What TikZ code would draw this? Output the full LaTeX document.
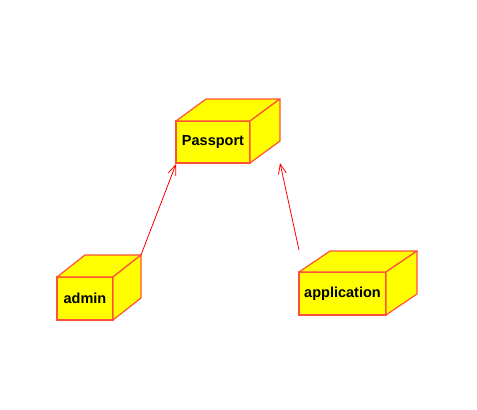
\documentclass[tikz,border=0pt]{standalone}
\usepackage{fontspec}
\setmainfont{Liberation Sans}
\usetikzlibrary{arrows.meta}
\definecolor{boxline}{RGB}{255,80,56}
\definecolor{boxfill}{RGB}{255,255,0}
\definecolor{linkred}{RGB}{255,0,0}
\begin{document}
\begin{tikzpicture}[x=1pt,y=-1pt,
  front/.style={draw=boxline,fill=boxfill,line width=1.2pt,inner sep=0pt,outer sep=0pt,
    font=\bfseries\fontsize{14.5}{16}\selectfont,text=black},
  face/.style={draw=boxline,fill=boxfill,line width=1.2pt,line join=round},
  link/.style={draw=linkred,line width=0.8pt,-{Straight Barb[length=10pt,width=8pt,line width=0.8pt]}}]
\useasboundingbox (0,0) rectangle (477,410);
% Passport
\node[front,minimum width=74pt,minimum height=42pt] (pass) at (213,142) {Passport};
\draw[face] (pass.north west) -- ++(30,-22) -- ++(74,0) -- (pass.north east) -- cycle;
\draw[face] (pass.north east) -- ++(30,-22) -- ++(0,42) -- (pass.south east) -- cycle;
% admin
\node[front,minimum width=56pt,minimum height=43pt] (admin) at (85,298.5) {admin};
\draw[face] (admin.north west) -- ++(28,-22) -- ++(56,0) -- (admin.north east) -- cycle;
\draw[face] (admin.north east) -- ++(28,-22) -- ++(0,43) -- (admin.south east) -- cycle;
% application
\node[front,minimum width=87pt,minimum height=43pt] (app) at (342.5,293.5) {application};
\draw[face] (app.north west) -- ++(31,-21) -- ++(87,0) -- (app.north east) -- cycle;
\draw[face] (app.north east) -- ++(31,-21) -- ++(0,43) -- (app.south east) -- cycle;
% connectors
\coordinate (adminend) at ([shift={(28,-22)}]admin.north east);
\coordinate (append) at ([shift={(0,-22)}]app.north west);
\coordinate (passtip2) at ([shift={(30,0)}]pass.south east);
\draw[link] (adminend) -- ([shift={(0,1)}]pass.south west);
\draw[link] (append) -- (passtip2);
\end{tikzpicture}
\end{document}
